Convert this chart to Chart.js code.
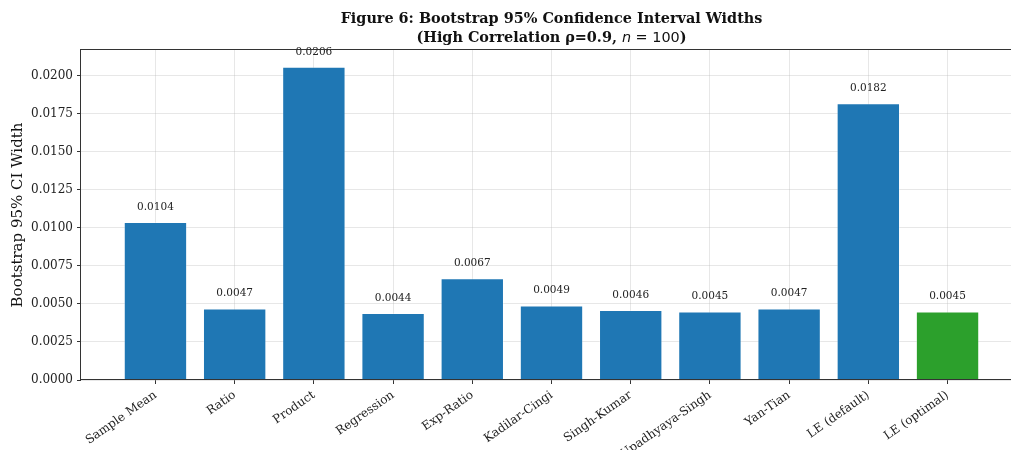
<!DOCTYPE html>
<html>
<head>
<meta charset="utf-8">
<script src="https://cdn.jsdelivr.net/npm/chart.js@4/dist/chart.umd.min.js"></script>
<style>
  html, body { margin: 0; padding: 0; background: #fff; overflow: hidden; }
  #wrap { width: 1011px; height: 450px; overflow: hidden; position: relative; }
  canvas { display: block; }
</style>
</head>
<body>
<div id="wrap"><canvas id="c" width="1040" height="450"></canvas></div>
<script>
// Estimators compared and their bootstrap 95% CI widths
const estimators = ['Sample Mean', 'Ratio', 'Product', 'Regression', 'Exp-Ratio',
  'Kadilar-Cingi', 'Singh-Kumar', 'Upadhyaya-Singh', 'Yan-Tian', 'LE (default)', 'LE (optimal)'];
const ciWidths = [0.0104, 0.0047, 0.0206, 0.0044, 0.0067, 0.0049, 0.0046, 0.0045, 0.0047, 0.0182, 0.0045];
const yTicks = [0, 0.0025, 0.005, 0.0075, 0.01, 0.0125, 0.015, 0.0175, 0.02];
const yMax = 0.02171;

const BLUE = '#1f77b4', GREEN = '#2ca02c';
const barColors = estimators.map((_, i) => i === estimators.length - 1 ? GREEN : BLUE);
const SERIF = '"DejaVu Serif", serif';
const SANS = '"DejaVu Sans", sans-serif';

// Value labels above bars
const valueLabels = {
  id: 'valueLabels',
  afterDatasetsDraw(chart) {
    const ctx = chart.ctx;
    const meta = chart.getDatasetMeta(0);
    ctx.save();
    ctx.font = '10.5px ' + SERIF;
    ctx.fillStyle = '#222';
    ctx.textAlign = 'center';
    ctx.textBaseline = 'middle';
    meta.data.forEach((bar, i) => {
      ctx.fillText(ciWidths[i].toFixed(4), bar.x, bar.y - 15);
    });
    ctx.restore();
  }
};

// Axes frame and two-line title with mixed fonts
const frameAndTitle = {
  id: 'frameAndTitle',
  afterDraw(chart) {
    const ctx = chart.ctx;
    const a = chart.chartArea;
    ctx.save();
    ctx.strokeStyle = '#333';
    ctx.lineWidth = 1;
    ctx.strokeRect(Math.round(a.left) - 0.5, Math.round(a.top) - 0.5,
      Math.round(a.right - a.left), Math.round(a.bottom - a.top));

    const cx = (a.left + a.right) / 2;
    ctx.fillStyle = '#111';
    ctx.textBaseline = 'middle';
    ctx.textAlign = 'center';
    ctx.font = 'bold 14.4px ' + SERIF;
    ctx.fillText('Figure 6: Bootstrap 95% Confidence Interval Widths', cx, 19);

    const parts = [
      { t: '(High Correlation \u03c1=0.9, ', f: 'bold 14.4px ' + SERIF },
      { t: 'n', f: 'italic 14.4px ' + SANS },
      { t: ' = 100', f: '14.4px ' + SANS },
      { t: ')', f: 'bold 14.4px ' + SERIF }
    ];
    let total = 0;
    parts.forEach(p => { ctx.font = p.f; p.w = ctx.measureText(p.t).width; total += p.w; });
    let x = cx - total / 2;
    ctx.textAlign = 'left';
    parts.forEach(p => { ctx.font = p.f; ctx.fillText(p.t, x, 38); x += p.w; });
    ctx.restore();
  }
};

new Chart(document.getElementById('c'), {
  type: 'bar',
  data: {
    datasets: [{
      data: ciWidths.map((v, i) => ({ x: i, y: v })),
      backgroundColor: barColors,
      borderColor: 'rgba(255,255,255,0.3)',
      borderWidth: 1,
      barPercentage: 0.8,
      categoryPercentage: 1.0
    }]
  },
  options: {
    responsive: false,
    animation: false,
    layout: { padding: { top: 50, right: 18, left: 0, bottom: 0 } },
    plugins: { legend: { display: false }, title: { display: false }, tooltip: { enabled: false } },
    scales: {
      x: {
        type: 'linear',
        min: -0.94,
        max: 10.94,
        offset: false,
        z: 1,
        afterBuildTicks(scale) { scale.ticks = estimators.map((_, i) => ({ value: i })); },
        afterFit(scale) { scale.height = 70; },
        ticks: {
          autoSkip: false,
          minRotation: 35,
          maxRotation: 35,
          padding: 4,
          color: '#222',
          font: { family: SERIF, size: 12 },
          callback: (v) => estimators[v]
        },
        grid: {
          offset: false,
          color: 'rgba(176,176,176,0.3)',
          lineWidth: 1,
          tickColor: '#333',
          tickLength: 4,
          drawOnChartArea: true
        },
        border: { display: false }
      },
      y: {
        min: 0,
        max: yMax,
        z: 1,
        afterBuildTicks(scale) { scale.ticks = yTicks.map(v => ({ value: v })); },
        afterFit(scale) { scale.width = 81; },
        ticks: {
          padding: 4,
          color: '#222',
          font: { family: SERIF, size: 12 },
          callback: (v) => v.toFixed(4)
        },
        grid: {
          color: 'rgba(176,176,176,0.3)',
          lineWidth: 1,
          tickColor: '#333',
          tickLength: 4
        },
        border: { display: false },
        title: {
          display: true,
          text: 'Bootstrap 95% CI Width',
          color: '#111',
          font: { family: SERIF, size: 15 },
          padding: { top: 9, bottom: 0 }
        }
      }
    }
  },
  plugins: [valueLabels, frameAndTitle]
});
</script>
</body>
</html>
